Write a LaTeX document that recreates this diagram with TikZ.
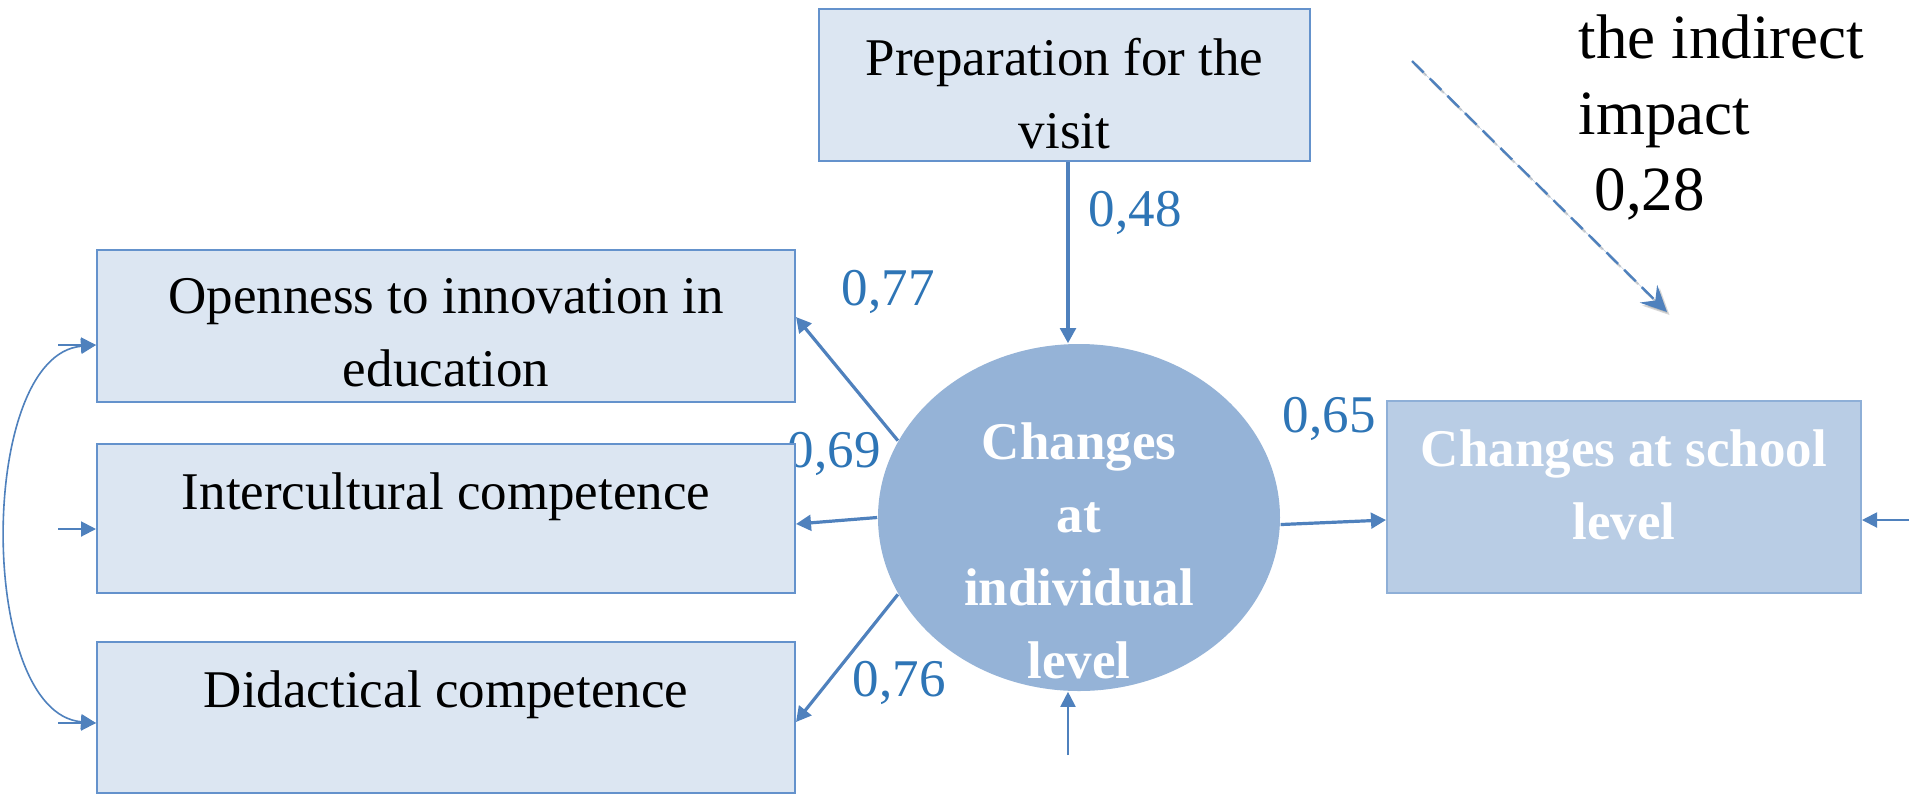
\documentclass[tikz,border=0pt]{standalone}
\usepackage{fontspec}
\setmainfont{Liberation Serif}
\usetikzlibrary{arrows.meta,shapes.geometric}
\newcommand{\pxu}{0.25pt}
\definecolor{linkblue}{RGB}{79,129,189}
\definecolor{boxfill}{RGB}{220,230,242}
\definecolor{boxline}{RGB}{100,146,204}
\definecolor{ovalfill}{RGB}{149,179,215}
\definecolor{schoolfill}{RGB}{185,205,229}
\definecolor{schoolline}{RGB}{142,175,215}
\definecolor{numblue}{RGB}{46,117,182}
\begin{document}
\begin{tikzpicture}[x=\pxu, y=-\pxu,
  every node/.style={font=\fontsize{13.25pt}{18.25pt}\selectfont},
  obsbox/.style={rectangle, draw=boxline, fill=boxfill, line width=0.5pt, inner sep=0pt},
  obstext/.style={anchor=north, inner sep=0pt, align=center, yshift=-7.25pt},
  lattext/.style={anchor=north, inner sep=0pt, align=center, text=white,
                  font=\fontsize{13.25pt}{18.25pt}\selectfont\bfseries},
  num/.style={text=numblue, anchor=base west, inner sep=0pt},
  arr/.style={draw=linkblue, line width=0.8pt, -{Triangle[length=3.75pt,width=3.9pt]}},
  thinarr/.style={draw=linkblue, line width=0.5pt, -{Triangle[length=3.75pt,width=3.75pt]}},
  curvearr/.style={draw=linkblue, line width=0.4pt,
                   {Triangle[length=3.75pt,width=3.75pt]}-{Triangle[length=3.75pt,width=3.75pt]}},
  dasharr/.style={line width=0.6pt, dash pattern=on 4.1pt off 2.1pt,
                  -{Stealth[length=6.5pt,width=6.2pt,inset=2.4pt]}}
]
\useasboundingbox (0,0) rectangle (1909,795);
\fill[white] (0,0) rectangle (1909,795);

% path coefficients
\node[num] (n77) at (841,305) {0,77};
\node[num] (n69) at (787,467) {0,69};
\node[num] (n76) at (852,696) {0,76};
\node[num] (n48) at (1088,226) {0,48};
\node[num] (n65) at (1282,432) {0,65};

% observed variables
\node[obsbox, minimum width=491*\pxu, minimum height=152*\pxu,
      label={[obstext]north:Preparation for the\\visit}] (prep) at (1064.5,85) {};
\node[obsbox, minimum width=698*\pxu, minimum height=152*\pxu,
      label={[obstext]north:Openness to innovation in\\education}] (open) at (446,326) {};
\node[obsbox, minimum width=698*\pxu, minimum height=149*\pxu,
      label={[obstext]north:Intercultural competence}] (inter) at (446,518.5) {};
\node[obsbox, minimum width=698*\pxu, minimum height=151*\pxu,
      label={[obstext]north:Didactical competence}] (didac) at (446,717.5) {};

% latent variable and outcome
\node[ellipse, fill=ovalfill, inner sep=0pt, minimum width=402*\pxu, minimum height=347*\pxu,
      label={[lattext, yshift=-19.6pt]north:Changes\\at\\individual\\level}] (ell) at (1079,517.5) {};
\node[rectangle, draw=schoolline, fill=schoolfill, line width=0.5pt, inner sep=0pt,
      minimum width=474*\pxu, minimum height=192*\pxu,
      label={[lattext, yshift=-7.25pt]north:Changes at school\\level}] (school) at (1624,497) {};

% structural paths
\draw[arr] ([xshift=3.5*\pxu]prep.south) -- ([xshift=3.5*\pxu]prep.south |- ell.north);
\draw[arr] (ell.157.25) -- ([yshift=9*\pxu]open.east);
\draw[arr] (ell.180.5) -- ([yshift=-5.5*\pxu]inter.east);
\draw[arr] (ell.203.4) -- ([yshift=-4.5*\pxu]didac.east);
\draw[arr] (ell.358.2) -- ([yshift=-23*\pxu]school.west);

% error terms
\coordinate (eschool) at (1909,520);
\coordinate (eell) at (1068,755);
\coordinate (eopen) at (58,345);
\coordinate (einter) at (58,529);
\coordinate (edidac) at (58,723);
\draw[thinarr] (eschool) -- (eschool -| school.east);
\draw[thinarr] (eell) -- (eell |- ell.south);
\draw[thinarr] (eopen) -- (eopen -| open.west);
\draw[thinarr] (einter) -- (einter -| inter.west);
\draw[thinarr] (edidac) -- (edidac -| didac.west);
\draw[curvearr] (eopen -| open.west) .. controls (-23,355) and (-23,713) .. (edidac -| didac.west);

% indirect effect
\coordinate (dstart) at (1412,61);
\coordinate (dend) at (1667,312);
\draw[dasharr, draw=black!45, fill=black!45, opacity=0.35]
  ([shift={(2.5,3)}]dstart) -- ([shift={(2.5,3)}]dend);
\draw[dasharr, draw=linkblue, fill=linkblue] (dstart) -- (dend);
\node[anchor=north west, inner sep=0pt, align=left,
      font=\fontsize{15.75pt}{19pt}\selectfont] (ind) at (1578,14)
  {the indirect\\impact\\\hspace*{0.25em}0,28};
\end{tikzpicture}
\end{document}
